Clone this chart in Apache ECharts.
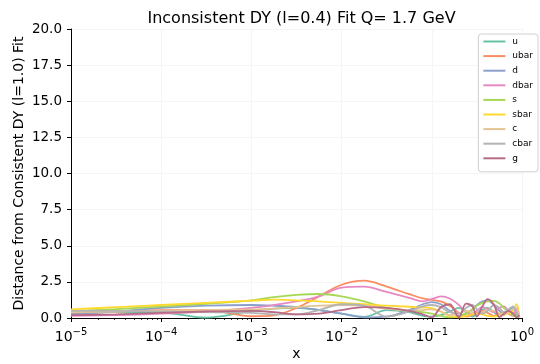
<!DOCTYPE html>
<html><head><meta charset="utf-8">
<script src="https://cdn.jsdelivr.net/npm/echarts@6/dist/echarts.min.js"></script>
<style>html,body{margin:0;padding:0;background:#fff}#c{width:540px;height:364px}</style>
</head><body><div id="c"></div>
<script>
// x sample positions (momentum fraction)
const xValues = [1e-5, 3.16e-5, 1e-4, 3.16e-4, 1e-3, 1.78e-3, 3.16e-3, 5.62e-3, 0.01, 0.0178, 0.0316, 0.0562, 0.0794, 0.1, 0.126, 0.158, 0.2, 0.24, 0.282, 0.316, 0.363, 0.417, 0.49, 0.562, 0.631, 0.708, 0.794, 0.871, 0.933];
const u    = [0.35, 0.4, 0.38, 0.03, 0.5, 0.65, 0.7, 0.55, 0.3, 0.08, 0.55, 0.4, 0.15, 0.1, 0.2, 0.45, 0.7, 0.4, 0.1, 0.25, 0.55, 0.7, 0.4, 0.15, 0.3, 0.5, 0.3, 0.15, 0.05];
const ubar = [0.3, 0.45, 0.55, 0.55, 0.12, 0.18, 0.7, 1.5, 2.3, 2.58, 2.17, 1.65, 1.35, 1.25, 1.15, 0.85, 0.35, 0.1, 0.2, 0.35, 0.5, 0.35, 0.15, 0.25, 0.4, 0.3, 0.15, 0.4, 0.1];
const d    = [0.25, 0.45, 0.7, 0.85, 0.9, 0.85, 0.75, 0.55, 0.3, 0.05, 0.1, 0.55, 0.95, 1.1, 0.95, 0.5, 0.15, 0.3, 0.6, 0.9, 1.15, 1.2, 0.9, 0.5, 0.3, 0.5, 0.7, 0.3, 0.05];
const dbar = [0.15, 0.2, 0.3, 0.45, 0.7, 0.9, 1.15, 1.5, 2.1, 2.17, 1.8, 1.4, 1.15, 1.3, 1.5, 1.35, 0.9, 0.4, 0.25, 0.5, 0.75, 0.6, 0.4, 0.7, 0.8, 0.5, 0.3, 0.6, 0.1];
const s    = [0.48, 0.62, 0.8, 0.98, 1.22, 1.45, 1.6, 1.66, 1.5, 1.15, 0.7, 0.5, 0.4, 0.3, 0.15, 0.05, 0.1, 0.3, 0.6, 0.85, 1.05, 1.15, 1.18, 1.0, 0.7, 0.4, 0.2, 0.1, 0.05];
const sbar = [0.6, 0.75, 0.9, 1.05, 1.2, 1.27, 1.22, 1.15, 1.05, 0.95, 0.85, 0.78, 0.72, 0.68, 0.45, 0.15, 0.05, 0.15, 0.25, 0.3, 0.25, 0.15, 0.1, 0.2, 0.35, 0.3, 0.5, 0.95, 0.1];
const c    = [0.4, 0.45, 0.5, 0.55, 0.6, 0.65, 0.75, 0.85, 0.9, 0.85, 0.65, 0.5, 0.55, 0.6, 0.45, 0.2, 0.3, 0.5, 0.4, 0.25, 0.4, 0.55, 0.5, 0.3, 0.2, 0.4, 0.6, 0.7, 0.05];
const cbar = [0.5, 0.5, 0.45, 0.4, 0.35, 0.25, 0.25, 0.55, 0.95, 0.85, 0.1, 0.45, 0.8, 0.9, 0.75, 0.4, 0.3, 0.7, 0.9, 0.6, 0.3, 0.5, 0.9, 0.7, 0.4, 0.6, 0.8, 0.3, 0.05];
const g    = [0.2, 0.25, 0.35, 0.45, 0.5, 0.4, 0.25, 0.3, 0.55, 0.75, 0.7, 0.5, 0.25, 0.05, 0.75, 0.95, 0.05, 1.0, 0.8, 0.1, 0.8, 1.3, 0.9, 0.05, 0.3, 0.5, 0.3, 0.05, 0.2];

const seriesNames = ['u', 'ubar', 'd', 'dbar', 's', 'sbar', 'c', 'cbar', 'g'];
const seriesValues = [u, ubar, d, dbar, s, sbar, c, cbar, g];
const colors = ['#66c2a5', '#fc8d62', '#8da0cb', '#e78ac3', '#a6d854', '#ffd92f', '#e5c494', '#b3b3b3', '#b86b86'];
const xTickExponents = [-5, -4, -3, -2, -1, 0];
const yTickLabels = ['0.0', '2.5', '5.0', '7.5', '10.0', '12.5', '15.0', '17.5', '20.0'];

const FONT = 'DejaVu Sans';
const chart = echarts.init(document.getElementById('c'), null, {renderer: 'canvas'});

const lineSeries = seriesNames.map((n, i) => ({
  name: n,
  type: 'line',
  data: xValues.map((x, k) => [x, seriesValues[i][k]]),
  smooth: 0.35,
  showSymbol: false,
  symbol: 'none',
  lineStyle: {width: 1.8, color: colors[i]},
  itemStyle: {color: colors[i]},
  z: 2 + i
}));

chart.setOption({
  animation: false,
  backgroundColor: '#fff',
  title: {
    text: 'Inconsistent DY (l=0.4) Fit Q= 1.7 GeV',
    left: 296.5, top: 6, textAlign: 'center',
    textStyle: {fontFamily: FONT, fontSize: 16, fontWeight: 'normal', color: '#000'}
  },
  grid: {left: 71, right: 18, top: 29, bottom: 46, containLabel: false, outerBoundsMode: 'none'},
  legend: {
    orient: 'vertical', right: 2, top: 34,
    backgroundColor: '#fff', borderColor: '#d0d0d0', borderWidth: 1, borderRadius: 3,
    padding: [2, 5, 8, 5],
    itemWidth: 22, itemHeight: 2, itemGap: 3.6,
    icon: 'rect',
    data: seriesNames,
    textStyle: {fontFamily: FONT, fontSize: 9, color: '#000', lineHeight: 11, padding: [0, 0, 0, 2]}
  },
  xAxis: {
    type: 'log', logBase: 10, min: 1e-5, max: 1,
    name: 'x', nameLocation: 'middle', nameGap: 29, nameMoveOverlap: false,
    nameTextStyle: {fontFamily: FONT, fontSize: 14, color: '#000'},
    axisLine: {show: true, onZero: false, lineStyle: {color: '#000', width: 1}},
    axisTick: {show: true, length: 4, inside: false, lineStyle: {color: '#000', width: 1}},
    minorTick: {show: true, splitNumber: 9, length: 2, lineStyle: {color: '#000', width: 0.8}},
    splitLine: {show: true, lineStyle: {color: '#f2f2f2', width: 0.8}},
    axisLabel: {
      margin: 9,
      formatter: function (v) {
        const e = Math.round(Math.log10(v));
        if (xTickExponents.indexOf(e) < 0) return '';
        return '{b|10}{s|' + (e < 0 ? '\u2212' + (-e) : e) + '}';
      },
      rich: {
        b: {fontFamily: FONT, fontSize: 14, color: '#000', verticalAlign: 'bottom', lineHeight: 17},
        s: {fontFamily: FONT, fontSize: 10, color: '#000', verticalAlign: 'bottom', lineHeight: 17, padding: [0, 0, 7, 0]}
      }
    }
  },
  yAxis: {
    type: 'value', min: 0, max: 20, interval: 2.5,
    name: 'Distance from Consistent DY (l=1.0) Fit', nameLocation: 'middle', nameGap: 45, nameMoveOverlap: false,
    nameTextStyle: {fontFamily: FONT, fontSize: 14, color: '#000'},
    axisLine: {show: true, lineStyle: {color: '#000', width: 1}},
    axisTick: {show: true, length: 4, lineStyle: {color: '#000', width: 1}},
    splitLine: {show: true, lineStyle: {color: '#f2f2f2', width: 0.8}},
    axisLabel: {
      margin: 9, fontFamily: FONT, fontSize: 13.5, color: '#000',
      formatter: function (v) { return yTickLabels[Math.round(v / 2.5)]; }
    }
  },
  series: lineSeries
});
</script>
</body></html>
